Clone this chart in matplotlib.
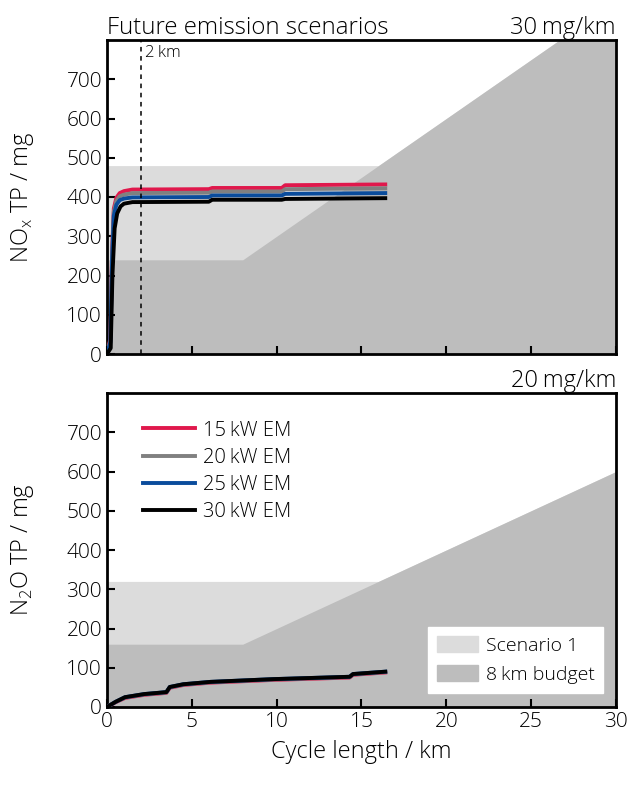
import numpy as np
import matplotlib.pyplot as plt
from matplotlib.patches import Patch

plt.rcParams['font.family'] = ['Open Sans', 'DejaVu Sans']
plt.rcParams['font.weight'] = 'light'
plt.rcParams['axes.titleweight'] = 'light'
plt.rcParams['axes.labelweight'] = 'light'

# NOx TP curves (mg) vs cycle length (km)
nox_x = {
    "15": [0, 0.2, 0.3, 0.4, 0.55, 0.75, 1.0, 1.5, 6.0, 6.2, 10.3, 10.5, 16.4],
    "20": [0, 0.2, 0.3, 0.4, 0.55, 0.75, 1.0, 1.5, 6.0, 6.2, 10.3, 10.5, 16.4],
    "25": [0, 0.2, 0.3, 0.4, 0.55, 0.75, 1.0, 1.5, 6.0, 6.2, 10.3, 10.5, 16.4],
    "30": [0, 0.22, 0.32, 0.45, 0.6, 0.8, 1.0, 1.5, 6.0, 6.2, 10.3, 10.5, 16.4],
}
nox_y = {
    "15": [0, 40, 260, 370, 398, 410, 415, 419, 420, 423, 423, 430, 432],
    "20": [0, 35, 250, 362, 390, 402, 406, 410, 411, 414, 414, 420, 422],
    "25": [0, 30, 240, 352, 380, 392, 396, 399, 400, 404, 404, 408, 410],
    "30": [0, 15, 200, 320, 358, 376, 383, 387, 388, 393, 393, 395, 397],
}

# N2O TP curves (mg)
n2o_x = [0, 0.5, 1.06, 2.2, 3.0, 3.5, 3.7, 4.5, 6.1, 9.8, 14.3, 14.5, 16.4]
n2o_y = {
    "15": [0, 12, 23, 31, 34, 36, 49, 56, 62, 69, 75, 82, 88],
    "20": [0, 13, 24, 32, 35, 37, 50, 57, 63, 70, 76, 83, 89],
    "25": [0, 13, 25, 33, 36, 38, 51, 58, 64, 71, 77, 84, 90],
    "30": [0, 13, 25, 33, 36, 38, 51, 58, 64, 71, 77, 84, 90],
}

labels = {"15": "15\u2009kW EM", "20": "20\u2009kW EM", "25": "25\u2009kW EM", "30": "30\u2009kW EM"}
colors = {"15": "#e0184c", "20": "#808080", "25": "#0a4c9c", "30": "#000000"}

limits = [30, 20]          # mg/km
budget_km = 8
scen_factor = 2

light = "#dcdcdc"
dark = "#bdbdbd"

fig = plt.figure(figsize=(6.32, 7.85), dpi=100)
ax1 = fig.add_axes([107 / 632, 1 - 354 / 785, 509 / 632, 314 / 785])
ax2 = fig.add_axes([107 / 632, 1 - 707 / 785, 509 / 632, 314 / 785])

xx = np.linspace(0, 30, 301)
for ax, lim in zip([ax1, ax2], limits):
    budget = np.maximum(lim * budget_km, lim * xx)
    scen = np.maximum(lim * budget_km * scen_factor, budget)
    ax.fill_between(xx, 0, scen, color=light, lw=0, zorder=0)
    ax.fill_between(xx, 0, budget, color=dark, lw=0, zorder=0)

for k in ["15", "20", "25", "30"]:
    ax1.plot(nox_x[k], nox_y[k], color=colors[k], lw=2.8, zorder=3)
    ax2.plot(n2o_x, n2o_y[k], color=colors[k], lw=2.8, zorder=3, label=labels[k])

ax1.axvline(2, color="black", ls=(0, (3, 3)), lw=1.1, zorder=4)
ax1.text(2.25, 788, "2\u2009km", fontsize=12, va="top", ha="left")

for ax in [ax1, ax2]:
    ax.set_xlim(0, 30)
    ax.set_ylim(0, 800)
    ax.set_yticks(range(0, 701, 100))
    ax.set_xticks(range(0, 31, 5))
    ax.tick_params(direction="in", length=6, width=1.5, labelsize=15,
                   top=False, right=False)
    for s in ax.spines.values():
        s.set_linewidth(2)
ax1.set_xticklabels([])

ax1.set_ylabel("NO$_\\mathregular{x}$ TP / mg", fontsize=17)
ax2.set_ylabel("N$_\\mathregular{2}$O TP / mg", fontsize=17)
ax2.set_xlabel("Cycle length / km", fontsize=17, labelpad=6)
ax1.yaxis.set_label_coords(-0.14, 0.5)
ax2.yaxis.set_label_coords(-0.14, 0.5)

ax1.set_title("Future emission scenarios", loc="left", fontsize=17.3, pad=2)
ax1.set_title("30\u2009mg/km", loc="right", fontsize=17, pad=2)
ax2.set_title("20\u2009mg/km", loc="right", fontsize=17, pad=2)

leg1 = ax2.legend(loc="upper left", bbox_to_anchor=(0.035, 0.97), frameon=False,
                  fontsize=14.5, handlelength=2.6, handletextpad=0.4, labelspacing=0.35)
ax2.add_artist(leg1)
handles = [Patch(color=light, label="Scenario 1"), Patch(color=dark, label="8\u2009km budget")]
leg2 = ax2.legend(handles=handles, loc="lower right", bbox_to_anchor=(0.975, 0.045),
                  fontsize=14, frameon=True, fancybox=False, edgecolor="white",
                  framealpha=1, handlelength=2.1, handleheight=0.9, handletextpad=0.4,
                  labelspacing=0.55, borderpad=0.45, borderaxespad=0)

fig.savefig("out.png", dpi=100)
